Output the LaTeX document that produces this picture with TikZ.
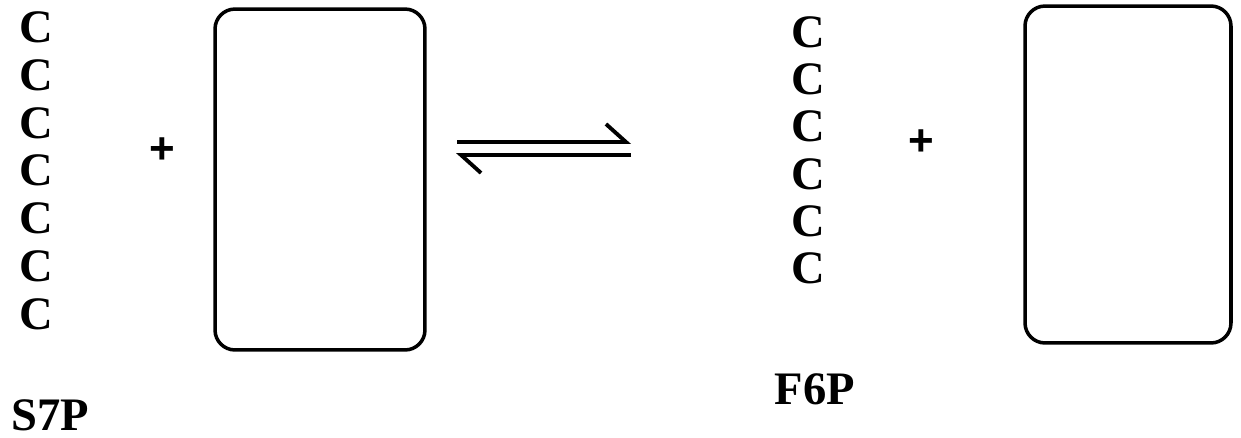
\documentclass[tikz,border=0pt]{standalone}
\usepackage{fontspec}
\setmainfont{Liberation Serif}
\newfontfamily\signfont{Liberation Sans}
\usetikzlibrary{arrows.meta}

\begin{document}
\begin{tikzpicture}[x=0.02cm, y=0.02cm,
		atom/.style={inner sep=0pt, font=\fontsize{26.5}{30}\selectfont\bfseries},
		sign/.style={inner sep=0pt, font=\signfont\fontsize{25}{28}\selectfont\bfseries},
		molbox/.style={draw, line width=2pt, rounded corners=0.4cm, inner sep=0pt},
		harp/.style={line width=2.2pt, -{Straight Barb[left, length=0.4cm, width=0.72cm]}}]
		\useasboundingbox (0, 0) rectangle (1241, -437);

		% S7P side
		\node[atom] (l1) at (36, -27)		{C};
		\node[atom] (l2) at (36, -75)		{C};
		\node[atom] (l3) at (36, -123)		{C};
		\node[atom] (l4) at (36, -170)		{C};
		\node[atom] (l5) at (36, -218)		{C};
		\node[atom] (l6) at (36, -266)		{C};
		\node[atom] (l7) at (36, -314)		{C};
		\node[sign] (lplus) at (162, -151)	{+};
		\node[molbox, minimum width=4.2cm, minimum height=6.82cm] (lbox) at (320, -179.5) {};
		\node[atom] (s7p) at (50, -415)		{S7P};

		% F6P side
		\node[atom] (r1) at (808, -32)		{C};
		\node[atom] (r2) at (808, -79)		{C};
		\node[atom] (r3) at (808, -126)		{C};
		\node[atom] (r4) at (808, -174)		{C};
		\node[atom] (r5) at (808, -221)		{C};
		\node[atom] (r6) at (808, -268)		{C};
		\node[sign] (rplus) at (921, -143)	{+};
		\node[molbox, minimum width=4.12cm, minimum height=6.74cm] (rbox) at (1128, -174.5) {};
		\node[atom] (f6p) at (815, -389)	{F6P};

		% equilibrium
		\coordinate (fwda) at (457, -142);
		\coordinate (fwdb) at (631, -142);
		\coordinate (reva) at (631, -155);
		\coordinate (revb) at (456, -155);
		\draw[harp] (fwda) -- (fwdb);
		\draw[harp] (reva) -- (revb);
	\end{tikzpicture}
\end{document}
